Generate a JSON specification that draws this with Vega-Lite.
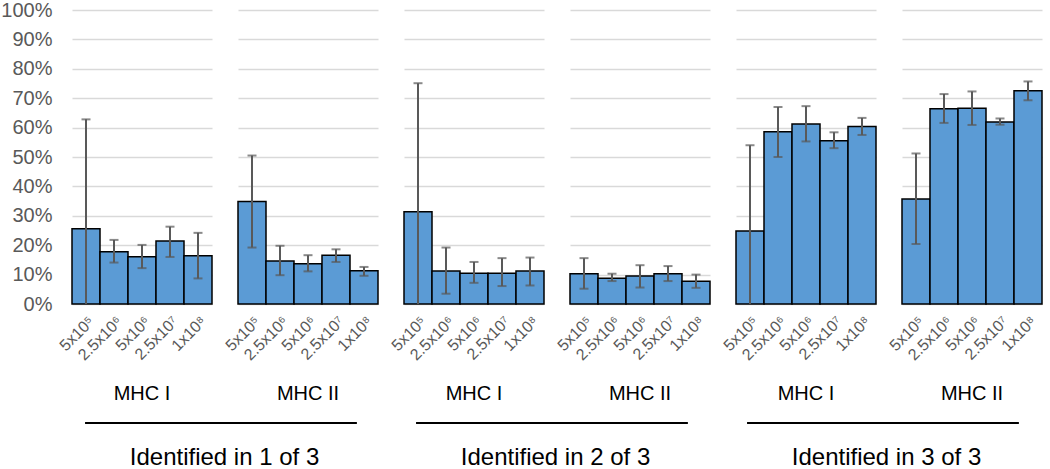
{
  "$schema": "https://vega.github.io/schema/vega-lite/v6.json",
  "padding": {"left": 0, "top": 0, "right": 5, "bottom": 0},
  "config": {"font": "Liberation Sans", "view": {"stroke": null}},
  "datasets": {
    "bars": [
      {"panel": 1, "dose": "5x10⁵", "mean": 0.256, "lo": -0.116, "hi": 0.628},
      {"panel": 1, "dose": "2.5x10⁶", "mean": 0.178, "lo": 0.141, "hi": 0.218},
      {"panel": 1, "dose": "5x10⁶", "mean": 0.161, "lo": 0.122, "hi": 0.201},
      {"panel": 1, "dose": "2.5x10⁷", "mean": 0.214, "lo": 0.160, "hi": 0.263},
      {"panel": 1, "dose": "1x10⁸", "mean": 0.164, "lo": 0.087, "hi": 0.242},
      {"panel": 2, "dose": "5x10⁵", "mean": 0.349, "lo": 0.192, "hi": 0.505},
      {"panel": 2, "dose": "2.5x10⁶", "mean": 0.146, "lo": 0.098, "hi": 0.198},
      {"panel": 2, "dose": "5x10⁶", "mean": 0.137, "lo": 0.111, "hi": 0.166},
      {"panel": 2, "dose": "2.5x10⁷", "mean": 0.166, "lo": 0.143, "hi": 0.186},
      {"panel": 2, "dose": "1x10⁸", "mean": 0.113, "lo": 0.096, "hi": 0.126},
      {"panel": 3, "dose": "5x10⁵", "mean": 0.314, "lo": -0.123, "hi": 0.751},
      {"panel": 3, "dose": "2.5x10⁶", "mean": 0.112, "lo": 0.035, "hi": 0.192},
      {"panel": 3, "dose": "5x10⁶", "mean": 0.105, "lo": 0.072, "hi": 0.143},
      {"panel": 3, "dose": "2.5x10⁷", "mean": 0.105, "lo": 0.061, "hi": 0.156},
      {"panel": 3, "dose": "1x10⁸", "mean": 0.112, "lo": 0.063, "hi": 0.158},
      {"panel": 4, "dose": "5x10⁵", "mean": 0.103, "lo": 0.052, "hi": 0.156},
      {"panel": 4, "dose": "2.5x10⁶", "mean": 0.088, "lo": 0.078, "hi": 0.103},
      {"panel": 4, "dose": "5x10⁶", "mean": 0.095, "lo": 0.056, "hi": 0.132},
      {"panel": 4, "dose": "2.5x10⁷", "mean": 0.103, "lo": 0.078, "hi": 0.129},
      {"panel": 4, "dose": "1x10⁸", "mean": 0.077, "lo": 0.055, "hi": 0.100},
      {"panel": 5, "dose": "5x10⁵", "mean": 0.248, "lo": -0.044, "hi": 0.540},
      {"panel": 5, "dose": "2.5x10⁶", "mean": 0.586, "lo": 0.500, "hi": 0.670},
      {"panel": 5, "dose": "5x10⁶", "mean": 0.612, "lo": 0.553, "hi": 0.673},
      {"panel": 5, "dose": "2.5x10⁷", "mean": 0.555, "lo": 0.530, "hi": 0.584},
      {"panel": 5, "dose": "1x10⁸", "mean": 0.604, "lo": 0.575, "hi": 0.633},
      {"panel": 6, "dose": "5x10⁵", "mean": 0.357, "lo": 0.204, "hi": 0.512},
      {"panel": 6, "dose": "2.5x10⁶", "mean": 0.664, "lo": 0.616, "hi": 0.714},
      {"panel": 6, "dose": "5x10⁶", "mean": 0.666, "lo": 0.609, "hi": 0.723},
      {"panel": 6, "dose": "2.5x10⁷", "mean": 0.619, "lo": 0.610, "hi": 0.631},
      {"panel": 6, "dose": "1x10⁸", "mean": 0.725, "lo": 0.693, "hi": 0.757}
    ],
    "groups": [
      {"group": "Identified in 1 of 3"},
      {"group": "Identified in 2 of 3"},
      {"group": "Identified in 3 of 3"}
    ]
  },
  "vconcat": [
    {
      "data": {"name": "bars"},
      "facet": {
        "column": {
          "field": "panel", "type": "ordinal", "title": null,
          "header": {
            "labelOrient": "bottom", "labelFontSize": 20, "labelColor": "black",
            "labelPadding": 21,
            "labelExpr": "datum.value % 2 == 1 ? 'MHC I' : 'MHC II'"
          }
        }
      },
      "spacing": 24,
      "spec": {
        "width": 140,
        "height": 294,
        "encoding": {
          "x": {
            "field": "dose", "type": "ordinal",
            "sort": ["5x10⁵", "2.5x10⁶", "5x10⁶", "2.5x10⁷", "1x10⁸"],
            "scale": {"paddingInner": 0, "paddingOuter": 0},
            "axis": {
              "title": null, "labelAngle": -45, "labelFontSize": 16,
              "labelColor": "#595959", "ticks": false, "domain": false, "labelPadding": 8
            }
          }
        },
        "layer": [
          {
            "mark": {"type": "bar", "fill": "#5B9BD5", "stroke": "black", "strokeWidth": 1.5},
            "encoding": {"y": {"field": "mean", "type": "quantitative", "scale": {"domain": [0, 1]}, "axis": {"title": null, "values": [0, 0.1, 0.2, 0.3, 0.4, 0.5, 0.6, 0.7, 0.8, 0.9, 1], "labelOverlap": false, "format": ".0%", "labelFontSize": 20, "labelColor": "#595959", "labelPadding": 19, "ticks": false, "domain": false, "grid": true, "gridColor": "#D9D9D9", "gridWidth": 1.5}}}
          },
          {
            "mark": {"type": "rule", "clip": true, "color": "#595959", "strokeWidth": 2},
            "encoding": {
              "y": {"field": "lo", "type": "quantitative", "scale": {"domain": [0, 1]}, "axis": {"title": null, "values": [0, 0.1, 0.2, 0.3, 0.4, 0.5, 0.6, 0.7, 0.8, 0.9, 1], "labelOverlap": false, "format": ".0%", "labelFontSize": 20, "labelColor": "#595959", "labelPadding": 19, "ticks": false, "domain": false, "grid": true, "gridColor": "#D9D9D9", "gridWidth": 1.5}},
              "y2": {"field": "hi"}
            }
          },
          {
            "mark": {"type": "tick", "clip": true, "color": "#595959", "thickness": 2, "size": 9},
            "encoding": {"y": {"field": "hi", "type": "quantitative", "scale": {"domain": [0, 1]}, "axis": {"title": null, "values": [0, 0.1, 0.2, 0.3, 0.4, 0.5, 0.6, 0.7, 0.8, 0.9, 1], "labelOverlap": false, "format": ".0%", "labelFontSize": 20, "labelColor": "#595959", "labelPadding": 19, "ticks": false, "domain": false, "grid": true, "gridColor": "#D9D9D9", "gridWidth": 1.5}}}
          },
          {
            "mark": {"type": "tick", "clip": true, "color": "#595959", "thickness": 2, "size": 9},
            "encoding": {"y": {"field": "lo", "type": "quantitative", "scale": {"domain": [0, 1]}, "axis": {"title": null, "values": [0, 0.1, 0.2, 0.3, 0.4, 0.5, 0.6, 0.7, 0.8, 0.9, 1], "labelOverlap": false, "format": ".0%", "labelFontSize": 20, "labelColor": "#595959", "labelPadding": 19, "ticks": false, "domain": false, "grid": true, "gridColor": "#D9D9D9", "gridWidth": 1.5}}}
          }
        ]
      }
    },
    {
      "data": {"name": "groups"},
      "facet": {
        "column": {
          "field": "group", "type": "nominal", "title": null,
          "header": {
            "labelOrient": "bottom", "labelFontSize": 24, "labelColor": "black",
            "labelPadding": 22
          }
        }
      },
      "spacing": 26,
      "spec": {
        "width": 305,
        "height": 2,
        "mark": {"type": "rule", "color": "black", "strokeWidth": 2},
        "encoding": {
          "x": {"datum": 0, "type": "quantitative", "scale": {"domain": [-0.048, 1.074]}, "axis": null},
          "x2": {"datum": 1}
        }
      }
    }
  ],
  "spacing": 18
}
